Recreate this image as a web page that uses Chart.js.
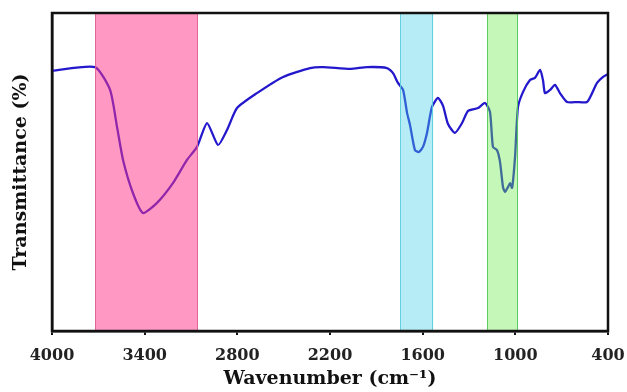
<!DOCTYPE html>
<html>
<head>
<meta charset="utf-8">
<script src="https://cdn.jsdelivr.net/npm/chart.js@4.4.1/dist/chart.umd.min.js"></script>
<style>
  html, body { margin: 0; padding: 0; background: #ffffff; }
  #wrap { width: 627px; height: 392px; position: relative; }
</style>
</head>
<body>
<div id="wrap"><canvas id="c" width="627" height="392"></canvas></div>
<script>
// ---- Data ----
const wavenumbers = [4000, 3722, 3624, 3579, 3540, 3476, 3411, 3320, 3217, 3126, 3061, 2996, 2925, 2867, 2802, 2673, 2504, 2329, 2245, 2070, 1960, 1831, 1792, 1760, 1727, 1701, 1682, 1650, 1624, 1598, 1572, 1540, 1501, 1468, 1436, 1391, 1345, 1306, 1242, 1196, 1164, 1145, 1119, 1099, 1080, 1067, 1047, 1034, 1021, 1002, 983, 950, 905, 873, 840, 821, 808, 775, 743, 711, 665, 601, 536, 503, 471, 432, 400];
const transmittance = [81.8, 83.0, 75.8, 64.2, 53.8, 43.4, 37.1, 40.3, 46.5, 53.8, 57.9, 65.4, 58.5, 63.2, 70.1, 74.8, 79.9, 82.7, 83.0, 82.4, 83.0, 82.7, 81.1, 78.0, 75.8, 68.6, 64.8, 56.9, 56.3, 57.9, 62.3, 70.4, 73.3, 70.8, 65.1, 62.3, 65.4, 69.2, 70.1, 71.7, 68.9, 57.9, 56.9, 53.1, 45.3, 43.7, 45.3, 46.5, 45.0, 54.7, 70.4, 75.2, 78.9, 79.6, 82.1, 78.9, 74.8, 75.8, 77.4, 74.8, 72.0, 72.0, 72.0, 74.8, 78.0, 79.9, 80.8];
const xTickValues = [4000, 3400, 2800, 2200, 1600, 1000, 400];
const bandStart = [3720, 1746, 1183];
const bandEnd = [3055, 1532, 982];

// ---- Styles ----
const bandFill = ['rgba(255,51,137,0.5)', 'rgba(70,207,230,0.4)', 'rgba(107,235,77,0.4)'];
const bandEdge = ['rgba(225,95,150,0.9)', 'rgba(90,205,220,0.9)', 'rgba(80,200,90,0.9)'];

const points = wavenumbers.map((w, i) => ({ x: w, y: transmittance[i] }));

const bandsPlugin = {
  id: 'bands',
  afterDatasetsDraw(chart) {
    const { ctx, chartArea, scales } = chart;
    const xs = scales.x;
    ctx.save();
    for (let i = 0; i < bandStart.length; i++) {
      const a = xs.getPixelForValue(bandStart[i]);
      const b = xs.getPixelForValue(bandEnd[i]);
      const l = Math.min(a, b), r = Math.max(a, b);
      ctx.fillStyle = bandFill[i];
      ctx.fillRect(l, chartArea.top, r - l, chartArea.bottom - chartArea.top);
      ctx.strokeStyle = bandEdge[i];
      ctx.lineWidth = 1;
      ctx.beginPath();
      ctx.moveTo(Math.round(l) + 0.5, chartArea.top);
      ctx.lineTo(Math.round(l) + 0.5, chartArea.bottom);
      ctx.moveTo(Math.round(r) - 0.5, chartArea.top);
      ctx.lineTo(Math.round(r) - 0.5, chartArea.bottom);
      ctx.stroke();
    }
    ctx.restore();
  },
  afterDraw(chart) {
    const { ctx, chartArea } = chart;
    ctx.save();
    ctx.strokeStyle = '#111';
    ctx.lineWidth = 2.5;
    ctx.strokeRect(chartArea.left, chartArea.top, chartArea.right - chartArea.left, chartArea.bottom - chartArea.top);
    ctx.restore();
  }
};

const serif = '"DejaVu Serif", "Liberation Serif", serif';

new Chart(document.getElementById('c'), {
  type: 'line',
  data: {
    datasets: [{
      data: points,
      borderColor: '#2418cc',
      borderWidth: 2.3,
      pointRadius: 0,
      tension: 0.2,
      fill: false
    }]
  },
  options: {
    responsive: false,
    animation: false,
    devicePixelRatio: 1,
    layout: { padding: { top: 13, right: 19, left: 0, bottom: 0 } },
    plugins: { legend: { display: false }, tooltip: { enabled: false } },
    scales: {
      x: {
        type: 'linear',
        reverse: true,
        min: 400,
        max: 4000,
        afterBuildTicks(scale) { scale.ticks = xTickValues.map(v => ({ value: v })); },
        afterFit(scale) { scale.height = 61; scale.paddingLeft = 0; scale.paddingRight = 0; },
        ticks: {
          color: '#222',
          padding: 11,
          maxRotation: 0,
          autoSkip: false,
          font: { family: serif, size: 16, weight: 'bold' },
          callback: v => String(v)
        },
        grid: { display: true, drawOnChartArea: false, drawTicks: true, tickLength: 4, color: '#111', lineWidth: 2 },
        border: { display: true, color: '#111', width: 2.5 },
        title: {
          display: true,
          text: 'Wavenumber (cm\u207B\u00B9)',
          color: '#111',
          padding: { top: 0, bottom: 2 },
          font: { family: serif, size: 19, weight: 'bold' }
        }
      },
      y: {
        min: 0,
        max: 100,
        afterFit(scale) { scale.width = 52; scale.paddingTop = 0; scale.paddingBottom = 0; },
        ticks: { display: false },
        grid: { display: false, drawTicks: false },
        border: { display: true, color: '#111', width: 2.5 },
        title: {
          display: true,
          text: 'Transmittance (%)',
          color: '#111',
          padding: { top: 10, bottom: 0 },
          font: { family: serif, size: 19, weight: 'bold' }
        }
      }
    }
  },
  plugins: [bandsPlugin]
});
</script>
</body>
</html>
